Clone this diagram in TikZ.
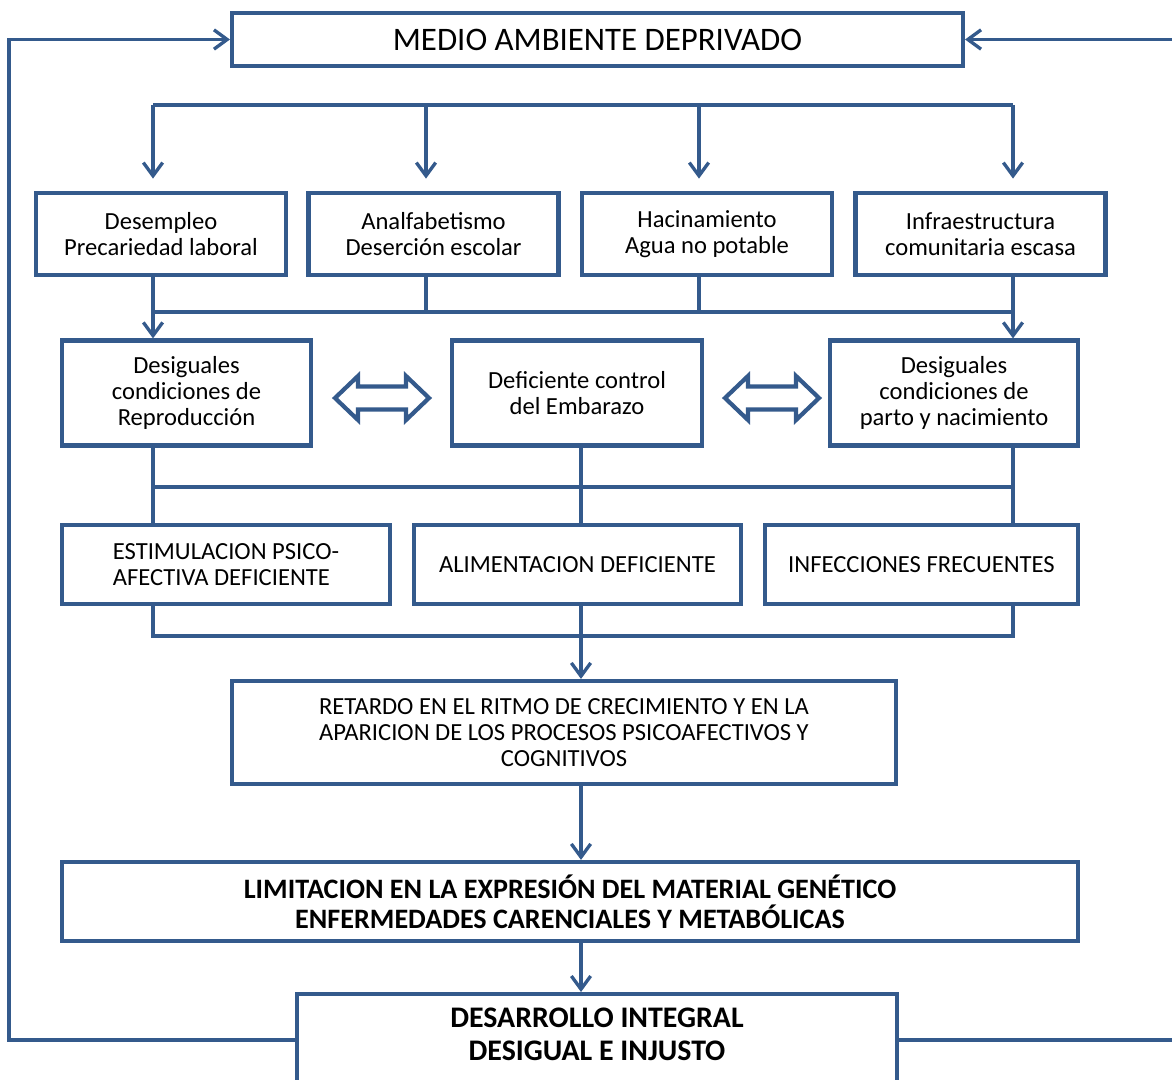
\documentclass[tikz,border=0pt]{standalone}
\usepackage{fontspec}
\setmainfont{Carlito}
\usetikzlibrary{arrows.meta}
\definecolor{azul}{RGB}{52,90,140}

\begin{document}
\begin{tikzpicture}[x=0.02cm, y=-0.02cm,
    caja/.style={draw=azul, line width=2.4pt, fill=white, align=center, inner sep=2pt, font=\fontsize{14}{15}\selectfont},
    flujo/.style={draw=azul, line width=1.9pt},
    flecha/.style={flujo, -{Straight Barb[length=7.5pt, width=11pt]}},
    doble/.style={draw=azul, line width=2.4pt, fill=white, line join=miter}]

    \useasboundingbox (0,0) rectangle (1172,1079);
    \clip (0,0) rectangle (1172,1079);

    \node[caja, minimum width=14.62cm, minimum height=1.06cm, font=\fontsize{18.7}{20}\selectfont] (medio) at (597.5,39.5) {MEDIO AMBIENTE DEPRIVADO};

    \node[caja, minimum width=5cm, minimum height=1.64cm] (desempleo) at (161,234) {Desempleo\\Precariedad laboral};
    \node[caja, minimum width=5cm, minimum height=1.64cm] (analfa) at (433.5,234) {Analfabetismo\\Deserción escolar};
    \node[caja, minimum width=5cm, minimum height=1.64cm] (hacina) at (707,234) {Hacinamiento\\Agua no potable};
    \node[caja, minimum width=5cm, minimum height=1.64cm] (infra) at (980.5,234) {Infraestructura\\comunitaria escasa};

    \node[caja, minimum width=4.98cm, minimum height=2.1cm] (reprod) at (186.5,393) {Desiguales\\condiciones de\\Reproducción};
    \node[caja, minimum width=5cm, minimum height=2.1cm] (embarazo) at (577,393) {Deficiente control\\del Embarazo};
    \node[caja, minimum width=4.96cm, minimum height=2.1cm] (parto) at (954,393) {Desiguales\\condiciones de\\parto y nacimiento};

    \node[caja, minimum width=6.56cm, minimum height=1.58cm, align=left] (estimula) at (226,564.5) {ESTIMULACION PSICO-\\AFECTIVA DEFICIENTE};
    \node[caja, minimum width=6.54cm, minimum height=1.58cm] (alimenta) at (577.5,564.5) {ALIMENTACION DEFICIENTE};
    \node[caja, minimum width=6.26cm, minimum height=1.58cm] (infecc) at (921.5,564.5) {INFECCIONES FRECUENTES};

    \node[caja, minimum width=13.28cm, minimum height=2.06cm, font=\fontsize{14}{14.8}\selectfont] (retardo) at (564,732.5)
        {RETARDO EN EL RITMO DE CRECIMIENTO Y EN LA\\APARICION DE LOS PROCESOS PSICOAFECTIVOS Y\\COGNITIVOS};
    \node[caja, minimum width=20.32cm, minimum height=1.58cm, font=\bfseries\fontsize{16}{17}\selectfont] (limita) at (570,901.5)
        {LIMITACION EN LA EXPRESIÓN DEL MATERIAL GENÉTICO\\ENFERMEDADES CARENCIALES Y METABÓLICAS};
    \node[caja, anchor=north, minimum width=12cm, inner ysep=8pt, text depth=60pt, font=\bfseries\fontsize{17}{18.5}\selectfont] (desarrollo) at (597,992)
        {DESARROLLO INTEGRAL\\DESIGUAL E INJUSTO};

    % reparto desde el medio ambiente
    \coordinate (t1) at (153,105);
    \coordinate (t2) at (426,105);
    \coordinate (t3) at (699,105);
    \coordinate (t4) at (1013,105);
    \draw[flujo] (t1) -- (t4);
    \foreach \c/\n in {t1/desempleo, t2/analfa, t3/hacina, t4/infra}
        \draw[flecha, shorten >=7pt] (\c) -- (\c |- \n.north);

    % primera reunion
    \coordinate (m1) at (153,312);
    \coordinate (m4) at (1013,312);
    \draw[flujo] (desempleo.south -| m1) -- (m1) -- (m4) -- (infra.south -| m4);
    \draw[flujo] (analfa.south -| t2) -- (t2 |- m1);
    \draw[flujo] (hacina.south -| t3) -- (t3 |- m1);
    \draw[flecha] (m1) -- (m1 |- reprod.north);
    \draw[flecha] (m4) -- (m4 |- parto.north);

    \draw[doble] (335,398) -- ++(23,-22) -- ++(0,10.5) -- ++(48,0) -- ++(0,-10.5) -- ++(23,22)
        -- ++(-23,22) -- ++(0,-10.5) -- ++(-48,0) -- ++(0,10.5) -- cycle;
    \draw[doble] (725,398) -- ++(23,-22) -- ++(0,10.5) -- ++(48,0) -- ++(0,-10.5) -- ++(23,22)
        -- ++(-23,22) -- ++(0,-10.5) -- ++(-48,0) -- ++(0,10.5) -- cycle;

    % segunda reunion
    \coordinate (l1) at (153,487);
    \coordinate (l4) at (1013,487);
    \coordinate (eje) at (581,636);
    \draw[flujo] (l1) -- (l4);
    \draw[flujo] (reprod.south -| l1) -- (estimula.north -| l1);
    \draw[flujo] (parto.south -| l4) -- (infecc.north -| l4);
    \draw[flujo] (embarazo.south -| eje) -- (alimenta.north -| eje);

    % tercera reunion
    \coordinate (i1) at (153,636);
    \coordinate (i4) at (1013,636);
    \draw[flujo] (estimula.south -| i1) -- (i1) -- (i4) -- (infecc.south -| i4);
    \draw[flujo] (alimenta.south -| eje) -- (eje);
    \draw[flecha] (eje) -- (eje |- retardo.north);
    \draw[flecha] (retardo.south -| eje) -- (eje |- limita.north);
    \draw[flecha] (limita.south -| eje) -- (eje |- desarrollo.north);

    % vuelta al medio ambiente
    \coordinate (izq) at (9,1040);
    \coordinate (der) at (1185,1040);
    \draw[flecha] (desarrollo.west |- izq) -- (izq) -- (izq |- medio.west) -- (medio.west);
    \draw[flecha] (desarrollo.east |- der) -- (der) -- (der |- medio.east) -- (medio.east);

\end{tikzpicture}
\end{document}
